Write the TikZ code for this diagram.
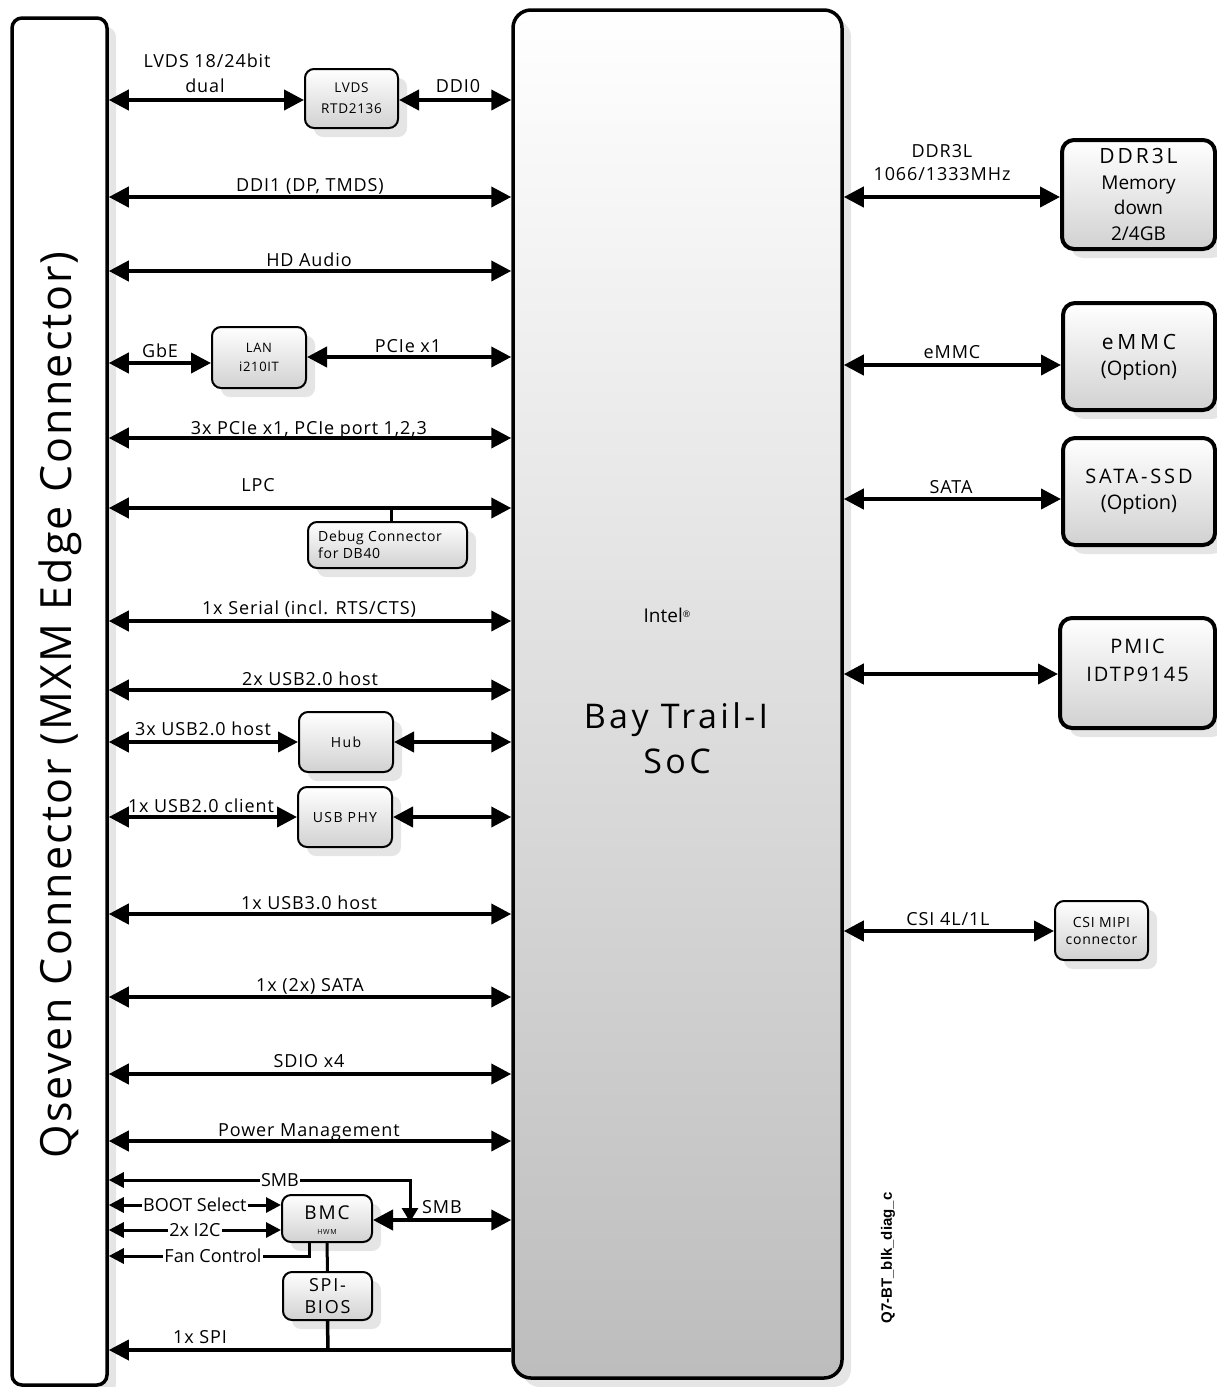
\documentclass[tikz,border=0pt]{standalone}
\usepackage{fontspec}
\setmainfont{Open Sans}[LetterSpace=5]
\newfontfamily\widefont{Open Sans}[LetterSpace=10]
\newfontfamily\widerfont{Open Sans}[LetterSpace=14]
\newfontfamily\widestfont{Open Sans}[LetterSpace=18]
\newfontfamily\plainfont{Open Sans}
\newfontfamily\arialb{Liberation Sans}
\usetikzlibrary{arrows.meta,shadows}
\newcommand\mkbox[6]{\node[#1, minimum width={#5-#3}, minimum height={#6-#4}] (#2) at ({(#3+#5)/2},{(#4+#6)/2}) {};}
\tikzset{
  shd/.style={drop shadow={shadow xshift=9pt, shadow yshift=-9pt, fill=black!10, opacity=1}},
  conn/.style={draw, line width=3.5pt, rounded corners=10pt, fill=white, shd, inner sep=0pt},
  socbox/.style={draw, line width=3.5pt, rounded corners=18pt, top color=white, bottom color=black!26, shd, inner sep=0pt},
  smallbox/.style={draw, line width=2pt, rounded corners=9pt, top color=white, bottom color=black!18, shd, inner sep=0pt},
  bigbox/.style={draw, line width=4pt, rounded corners=12pt, top color=white, bottom color=black!18, shd, inner sep=0pt},
  lbl/.style={font=\fontsize{18}{20}\selectfont, inner sep=0pt, anchor=base},
  slbl/.style={font=\plainfont\fontsize{18}{20}\selectfont, inner sep=1.5pt, fill=white},
  btxt/.style={align=center, inner sep=0pt},
  bus/.style={line width=4pt, {Triangle[length=20pt,width=20pt]}-{Triangle[length=20pt,width=20pt]}},
  thinbus/.style={line width=3pt, {Triangle[length=15pt,width=15pt]}-{Triangle[length=15pt,width=15pt]}},
  tip/.style={-{Triangle[length=15pt,width=15pt]}},
}
\begin{document}
\begin{tikzpicture}[x=1pt,y=-1pt]
\useasboundingbox (0,0) rectangle (1217,1387);
% main blocks
\mkbox{conn}{qc}{12}{18}{107}{1385}
\mkbox{socbox}{soc}{513}{10}{842}{1378}
\node[rotate=90, font=\fontsize{43}{45}\selectfont, inner sep=0pt] (qct) at (60,705) {Qseven Connector (MXM Edge Connector)};
\node[lbl, font=\plainfont\fontsize{19}{20}\selectfont] (intel) at (667,622) {Intel\raisebox{5pt}{\fontsize{9}{9}\selectfont ®}};
\node[lbl, font=\widefont\fontsize{34}{36}\selectfont] (bt) at (676,728) {Bay Trail-I};
\node[lbl, font=\widefont\fontsize{34}{36}\selectfont] (soct) at (677,773) {SoC};
% small boxes
\mkbox{smallbox}{lvds}{305}{69}{398}{128}
\mkbox{smallbox}{lan}{212}{327}{306}{388}
\mkbox{smallbox}{dbg}{308}{522}{467}{568}
\mkbox{smallbox}{hub}{299}{712}{393}{772}
\mkbox{smallbox}{phy}{298}{787}{392}{847}
\mkbox{smallbox}{bmc}{282}{1195}{372}{1242}
\mkbox{smallbox}{spi}{283}{1272}{372}{1320}
\mkbox{smallbox}{csi}{1055}{901}{1148}{960}
% big boxes right
\mkbox{bigbox}{ddr}{1062}{140}{1215}{249}
\mkbox{bigbox}{emmc}{1063}{303}{1215}{410}
\mkbox{bigbox}{ssd}{1063}{438}{1215}{545}
\mkbox{bigbox}{pmic}{1060}{618}{1215}{728}
% box texts
\node[btxt, font=\fontsize{13.5}{21}\selectfont] (lvdst) at (lvds.center) {LVDS\\RTD2136};
\node[btxt, font=\fontsize{13}{19}\selectfont] (lant) at (lan.center) {LAN\\i210IT};
\node[btxt, align=left, anchor=west, font=\fontsize{14}{17}\selectfont] (dbgt) at (318,545) {Debug Connector\\for DB40};
\node[btxt, font=\widefont\fontsize{14}{17}\selectfont] (hubt) at (hub.center) {Hub};
\node[btxt, font=\widefont\fontsize{14}{17}\selectfont] (phyt) at (phy.center) {USB PHY};
\node[btxt, font=\fontsize{14}{17}\selectfont] (csit) at (csi.center) {CSI MIPI\\connector};
\node[btxt, font=\widefont\fontsize{19}{15}\selectfont] (bmct) at ([yshift=-2pt]bmc.center) {BMC\\{\fontsize{7}{7}\selectfont HWM}};
\node[btxt, font=\widefont\fontsize{18}{22}\selectfont] (spit) at (spi.center) {SPI-\\BIOS};
\node[btxt, font=\plainfont\fontsize{19}{25.5}\selectfont] (ddrt) at (ddr.center) {{\widerfont\fontsize{21}{25}\selectfont DDR3L}\\Memory\\down\\2/4GB};
\node[btxt, font=\plainfont\fontsize{20}{26}\selectfont] (emmct) at ([yshift=-1pt]emmc.center) {{\widestfont\fontsize{21}{26}\selectfont eMMC}\\(Option)};
\node[btxt, font=\plainfont\fontsize{20}{26}\selectfont] (ssdt) at (ssd.center) {{\widerfont SATA-SSD}\\(Option)};
\node[btxt, font=\widefont\fontsize{20}{28}\selectfont] (pmict) at ([yshift=13pt]pmic.center) {PMIC\\IDTP9145};
% left buses
\draw[bus] (qc.east |- 0,100) -- (lvds.west |- 0,100);
\draw[bus] (lvds.east |- 0,100) -- (soc.west |- 0,100);
\foreach \yy in {197,271,438,508,621,690,914,997,1074,1141}
  \draw[bus] (qc.east |- 0,\yy) -- (soc.west |- 0,\yy);
\draw[bus] (qc.east |- 0,363) -- (lan.west |- 0,363);
\draw[bus] (lan.east |- 0,357) -- (soc.west |- 0,357);
\draw[bus] (qc.east |- hub.west) -- (hub.west);
\draw[bus] (hub.east) -- (soc.west |- hub.east);
\draw[bus] (qc.east |- phy.west) -- (phy.west);
\draw[bus] (phy.east) -- (soc.west |- phy.east);
\coordinate (dbgj) at (391,508);
\draw[line width=3pt] (dbgj) -- (dbgj |- dbg.north);
% left labels
\node[lbl] (l1) at (207,67) {LVDS 18/24bit};
\node[lbl] (l2) at (205,92) {dual};
\node[lbl] (l3) at (458,92) {DDI0};
\node[lbl] (l4) at (310,191) {DDI1 (DP, TMDS)};
\node[lbl] (l5) at (309,266) {HD Audio};
\node[lbl] (l6) at (160,357) {GbE};
\node[lbl] (l7) at (408,352) {PCIe x1};
\node[lbl] (l8) at (309,434) {3x PCIe x1, PCIe port 1,2,3};
\node[lbl] (l9) at (258,491) {LPC};
\node[lbl] (l10) at (309,614) {1x Serial (incl. RTS/CTS)};
\node[lbl] (l11) at (310,685) {2x USB2.0 host};
\node[lbl] (l12) at (203,735) {3x USB2.0 host};
\node[lbl] (l13) at (201,812) {1x USB2.0 client};
\node[lbl] (l14) at (309,909) {1x USB3.0 host};
\node[lbl] (l15) at (310,991) {1x (2x) SATA};
\node[lbl] (l16) at (309,1067) {SDIO x4};
\node[lbl] (l17) at (309,1136) {Power Management};
% BMC area
\draw[bus] (bmc.east |- 0,1220) -- (soc.west |- 0,1220);
\node[lbl] (l18) at (442,1213) {SMB};
\coordinate (smbj) at (410,1180);
\coordinate (smbe) at (410,1222);
\draw[line width=3pt, {Triangle[length=15pt,width=15pt]}-{Triangle[length=14pt,width=16pt]}] (qc.east |- smbj) -- (smbj) -- (smbe);
\node[slbl] (smbt) at (280,1180) {SMB};
\draw[thinbus] (qc.east |- 0,1205) -- (bmc.west |- 0,1205) node[slbl, midway] (boot) {BOOT Select};
\draw[thinbus] (qc.east |- 0,1230) -- (bmc.west |- 0,1230) node[slbl, midway] (i2c) {2x I2C};
\coordinate (fan) at (309,1256);
\draw[line width=3pt, tip] (fan |- bmc.south) -- (fan) -- (qc.east |- fan);
\node[slbl] (fant) at (213,1256) {Fan Control};
\draw[line width=3pt] (bmc.south) -- (spi.north);
\coordinate (spij) at (328,1350);
\draw[line width=3.5pt] (spi.south) -- (spij);
\draw[line width=3.5pt, -{Triangle[length=20pt,width=20pt]}] (soc.west |- spij) -- (qc.east |- spij);
\node[lbl] (l19) at (200,1343) {1x SPI};
% right buses
\draw[bus] (soc.east |- 0,197) -- (ddr.west |- 0,197);
\draw[bus] (soc.east |- 0,365) -- (emmc.west |- 0,365);
\draw[bus] (soc.east |- 0,499) -- (ssd.west |- 0,499);
\draw[bus] (soc.east |- 0,674) -- (pmic.west |- 0,674);
\draw[bus] (soc.east |- 0,931) -- (csi.west |- 0,931);
\node[lbl] (r1) at (942,157) {DDR3L};
\node[lbl] (r2) at (942,180) {1066/1333MHz};
\node[lbl] (r3) at (952,358) {eMMC};
\node[lbl] (r4) at (951,493) {SATA};
\node[lbl] (r5) at (948,925) {CSI 4L/1L};
\node[rotate=90, font=\arialb\bfseries\fontsize{15}{15}\selectfont, inner sep=0pt] (tag) at (888,1258) {Q7-BT\_blk\_diag\_c};
\end{tikzpicture}
\end{document}
